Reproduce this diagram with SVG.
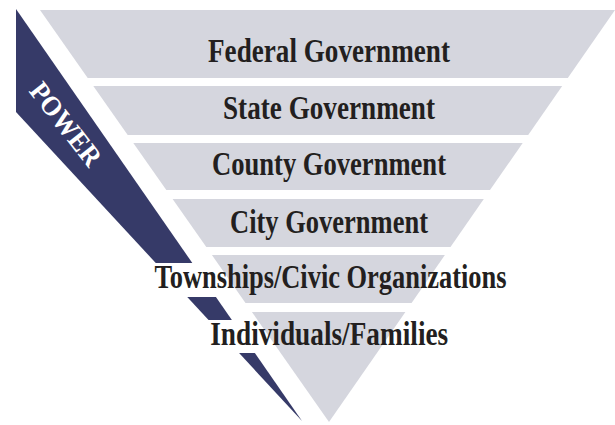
<svg xmlns="http://www.w3.org/2000/svg" width="615" height="425" viewBox="0 0 615 425">
<style>
.band{fill:#d5d6de}
.lbl{font-family:"Liberation Serif","Times New Roman",serif;font-weight:bold;font-size:33px;fill:#231f20;text-anchor:middle}
.pw{font-family:"Liberation Serif","Times New Roman",serif;font-weight:bold;font-size:28px;fill:#ffffff;text-anchor:middle}
</style>
<rect width="615" height="425" fill="#ffffff"/>
<g id="power">
<polygon points="16,9 302,421 16,112" fill="#363a68"/>
<rect x="130" y="263" width="110" height="34" fill="#ffffff"/>
<rect x="180" y="320" width="90" height="33" fill="#ffffff"/>
<text class="pw" transform="translate(58.5,129.9) rotate(52)" textLength="98" lengthAdjust="spacingAndGlyphs">POWER</text>
</g>
<g id="federal">
<polygon class="band" points="40,10 615,10 567.8,78 87.7,78"/>
<text class="lbl" x="329" y="62" textLength="242" lengthAdjust="spacingAndGlyphs">Federal Government</text>
</g>
<g id="state">
<polygon class="band" points="93.3,86 562.2,86 528.2,135 127.7,135"/>
<text class="lbl" x="329" y="119.3" textLength="212" lengthAdjust="spacingAndGlyphs">State Government</text>
</g>
<g id="county">
<polygon class="band" points="133.3,143 522.7,143 490,190 166.3,190"/>
<text class="lbl" x="329" y="175" textLength="234" lengthAdjust="spacingAndGlyphs">County Government</text>
</g>
<g id="city">
<polygon class="band" points="172.6,199 483.8,199 450.5,247 206.3,247"/>
<text class="lbl" x="329" y="233.3" textLength="198" lengthAdjust="spacingAndGlyphs">City Government</text>
</g>
<g id="townships">
<polygon class="band" points="211.9,255 444.9,255 411.6,303 245.5,303"/>
<text class="lbl" x="330.5" y="288.3" textLength="352" lengthAdjust="spacingAndGlyphs">Townships/Civic Organizations</text>
</g>
<g id="individuals">
<polygon class="band" points="251.9,312 405.4,312 329,422"/>
<text class="lbl" x="329.2" y="345" textLength="238" lengthAdjust="spacingAndGlyphs">Individuals/Families</text>
</g>
<g id="connectors"></g>
</svg>
